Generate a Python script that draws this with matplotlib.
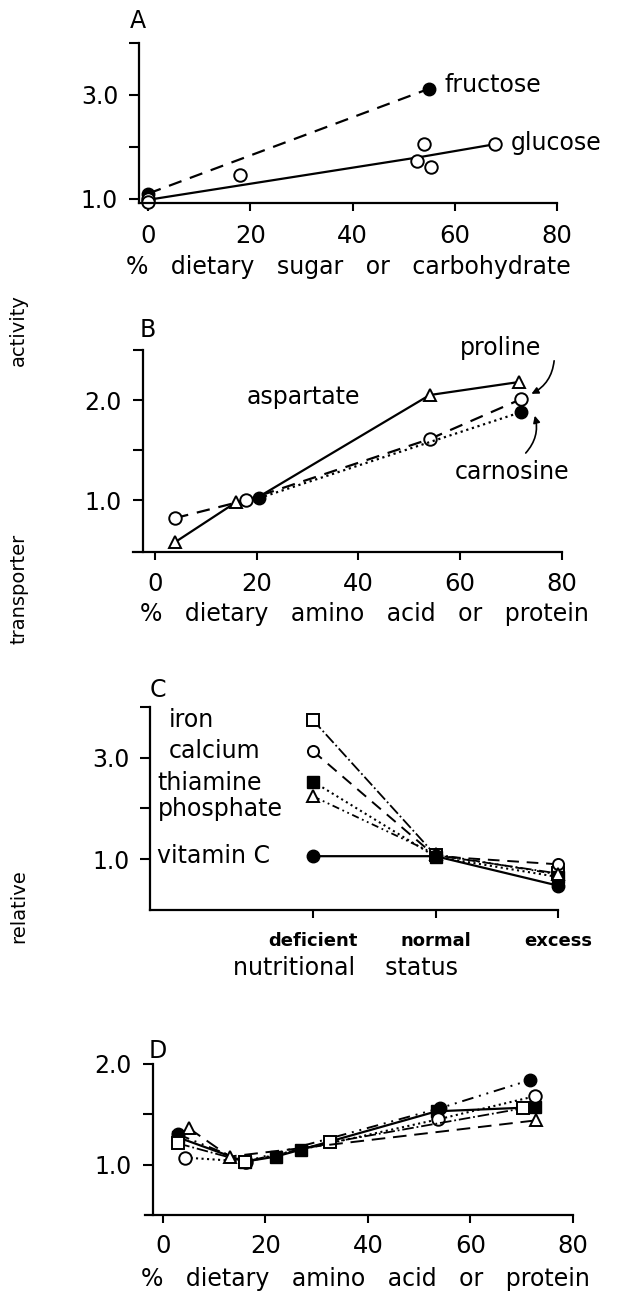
import matplotlib
matplotlib.use("Agg")
import matplotlib.pyplot as plt

plt.rcParams['font.family'] = ['DejaVu Sans']

# panel A: sugar / carbohydrate
fructose_x = [0, 55]
fructose_y = [1.10, 3.12]
glucose_pts_x = [0, 0, 18, 52.7, 54, 55.3, 67.8]
glucose_pts_y = [1.00, 0.94, 1.45, 1.72, 2.05, 1.62, 2.05]
glucose_fit_x = [0, 53, 67.8]
glucose_fit_y = [0.98, 1.80, 2.05]

# panel B: amino acids
aspartate_x = [4, 16, 20, 54, 71.5]
aspartate_y = [0.58, 0.98, 1.02, 2.05, 2.18]
proline_x = [4, 18, 54, 72]
proline_y = [0.82, 1.00, 1.61, 2.01]
carnosine_x = [20.5, 72]
carnosine_y = [1.02, 1.88]

# panel C: nutritional status
status = ["deficient", "normal", "excess"]
iron_y = [3.74, 1.08, 0.72]
calcium_y = [3.13, 1.06, 0.90]
thiamine_y = [2.53, 1.05, 0.65]
phosphate_y = [2.24, 1.10, 0.70]
vitaminc_y = [1.06, 1.06, 0.48]

# panel D: amino acid or protein
d1_x = [3, 16, 54, 71.6]
d1_y = [1.30, 1.03, 1.56, 1.84]
d2_x = [3, 16, 22, 27, 53.4, 72.5]
d2_y = [1.27, 1.03, 1.08, 1.15, 1.53, 1.57]
d3_x = [4.3, 16.3, 53.7, 72.6]
d3_y = [1.07, 1.03, 1.45, 1.68]
d4_x = [3, 16, 32.6, 70.3]
d4_y = [1.21, 1.03, 1.22, 1.56]
d5_x = [5.1, 13, 72.8]
d5_y = [1.36, 1.08, 1.44]

FS = 17
LFS = 17
XFS = 17.5
PFS = 17  # panel letters


def style_axes(ax, xlim, ylim, yticks, ylabels, xticks=None, xlabels=None,
               xpad=8, yspine=None):
    ax.spines["top"].set_visible(False)
    ax.spines["right"].set_visible(False)
    for s in ("left", "bottom"):
        ax.spines[s].set_linewidth(1.6)
    if yspine is not None:
        ax.spines["left"].set_position(("data", yspine))
    ax.set_xlim(*xlim)
    ax.set_ylim(*ylim)
    ax.set_yticks(yticks)
    ax.set_yticklabels(ylabels, fontsize=FS)
    if xticks is not None:
        ax.set_xticks(xticks)
        ax.set_xticklabels(xlabels, fontsize=XFS)
    ax.tick_params(axis="y", direction="out", length=7, width=1.5, pad=8)
    ax.tick_params(axis="x", direction="out", length=6, width=1.5, pad=xpad)
    ax.patch.set_alpha(0)


fig = plt.figure(figsize=(6.28, 12.95), dpi=100)

# ---------------- A
axA = fig.add_axes([0.2213, 0.8433, 0.6656, 0.1235])
style_axes(axA, (-1.8, 80), (0.92, 4.0), [1, 2, 3, 4], ["1.0", "", "3.0", ""],
           [0, 20, 40, 60, 80], ["0", "20", "40", "60", "80"], xpad=9)
axA.plot(fructose_x, fructose_y, "k--", lw=1.6, dashes=(6, 4), marker="o",
         ms=9, mfc="k", mec="k", clip_on=False)
axA.plot(glucose_fit_x, glucose_fit_y, "k-", lw=1.6, clip_on=False)
axA.plot(glucose_pts_x, glucose_pts_y, "o", ms=9, mfc="white", mec="k",
         mew=1.4, clip_on=False)
axA.text(58, 3.2, "fructose", fontsize=LFS, va="center")
axA.text(71, 2.08, "glucose", fontsize=LFS, va="center")
axA.text(-2, 4.2, "A", fontsize=PFS, ha="center", va="bottom")
axA.set_xlabel("%   dietary   sugar   or   carbohydrate", fontsize=LFS, labelpad=5)

# ---------------- B
axB = fig.add_axes([0.2118, 0.5737, 0.6831, 0.156])
style_axes(axB, (-4.3, 80), (0.48, 2.5), [1.0, 1.5, 2.0, 2.5], ["1.0", "", "2.0", ""],
           [0, 20, 40, 60, 80], ["0", "20", "40", "60", "80"], yspine=-2.4)
axB.plot(aspartate_x, aspartate_y, "k-", lw=1.6, marker="^", ms=9, mfc="white",
         mec="k", mew=1.4, markevery=[0, 1, 3, 4], clip_on=False)
axB.plot(proline_x, proline_y, "k--", lw=1.6, dashes=(6, 4), marker="o", ms=9,
         mfc="white", mec="k", mew=1.4, clip_on=False)
axB.plot(carnosine_x, carnosine_y, "k:", lw=1.6, marker="o", ms=9, mfc="k",
         mec="k", clip_on=False)
axB.text(18, 2.03, "aspartate", fontsize=LFS, va="center")
axB.text(60, 2.52, "proline", fontsize=LFS, va="center")
axB.text(59, 1.28, "carnosine", fontsize=LFS, va="center")
axB.annotate("", xy=(73.5, 2.05), xytext=(78.5, 2.42),
             arrowprops=dict(arrowstyle="-|>", color="k", lw=1.2,
                             connectionstyle="arc3,rad=-0.3"))
axB.annotate("", xy=(74.5, 1.87), xytext=(72.5, 1.45),
             arrowprops=dict(arrowstyle="-|>", color="k", lw=1.2,
                             connectionstyle="arc3,rad=0.3"))
axB.text(-1.5, 2.58, "B", fontsize=PFS, ha="center", va="bottom")
axB.set_xlabel("%   dietary   amino   acid   or   protein", fontsize=LFS,
               labelpad=5, x=0.54)

# ---------------- C
axC = fig.add_axes([0.2389, 0.2973, 0.6497, 0.1568])
style_axes(axC, (-1.33, 2), (0, 4), [1, 2, 3, 4], ["1.0", "", "3.0", ""],
           [0, 1, 2], status, xpad=10)
axC.set_xticklabels(status, fontsize=13, fontweight="bold")
pos = range(len(status))
axC.plot(pos, iron_y, "k-.", lw=1.3, marker="s", ms=8, mfc="white", mec="k",
         mew=1.4, clip_on=False)
axC.plot(pos, calcium_y, "k--", lw=1.4, dashes=(6, 4), marker="o", ms=8,
         mfc="white", mec="k", mew=1.4, clip_on=False)
axC.plot(pos, thiamine_y, "k:", lw=1.5, marker="s", ms=8, mfc="k", mec="k",
         clip_on=False)
axC.plot(pos, phosphate_y, "k", lw=1.3, dashes=(4, 2, 1, 2, 1, 2), marker="^",
         ms=8, mfc="white", mec="k", mew=1.4, clip_on=False)
axC.plot(pos, vitaminc_y, "k-", lw=1.6, marker="o", ms=9, mfc="k", mec="k",
         clip_on=False)
for name, yy in [("iron", 3.74), ("calcium", 3.13), ("thiamine", 2.5),
                 ("phosphate", 1.98), ("vitamin C", 1.06)]:
    xx = -1.18 if name in ("iron", "calcium") else -1.27
    axC.text(xx, yy, name, fontsize=LFS, va="center")
axC.text(-1.27, 4.1, "C", fontsize=PFS, ha="center", va="bottom")
axC.set_xlabel("nutritional    status", fontsize=LFS, labelpad=4, x=0.48)

# ---------------- D
axD = fig.add_axes([0.2309, 0.0618, 0.6815, 0.1166])
style_axes(axD, (-3.5, 80), (0.5, 2.0), [1.0, 1.5, 2.0], ["1.0", "", "2.0"],
           [0, 20, 40, 60, 80], ["0", "20", "40", "60", "80"], yspine=-2)
axD.plot(d1_x, d1_y, "k", lw=1.4, dashes=(6, 3, 1, 3, 1, 3), marker="o", ms=9,
         mfc="k", mec="k", clip_on=False)
axD.plot(d2_x, d2_y, "k-", lw=1.6, marker="s", ms=8, mfc="k", mec="k",
         clip_on=False)
axD.plot(d3_x, d3_y, "k:", lw=1.5, marker="o", ms=9, mfc="white", mec="k",
         mew=1.4, clip_on=False)
axD.plot(d4_x, d4_y, "k-.", lw=1.3, marker="s", ms=8, mfc="white", mec="k",
         mew=1.4, clip_on=False)
axD.plot(d5_x, d5_y, "k--", lw=1.4, dashes=(7, 4), marker="^", ms=8,
         mfc="white", mec="k", mew=1.4, clip_on=False)
axD.text(-1, 2.01, "D", fontsize=PFS, ha="center", va="bottom")
axD.set_xlabel("%   dietary   amino   acid   or   protein", fontsize=LFS,
               labelpad=6, x=0.516)

# shared y label, split like the original
for yy, word in [(0.745, "activity"), (0.545, "transporter"), (0.30, "relative")]:
    fig.text(0.03, yy, word, rotation=90, fontsize=14, ha="center", va="center")

fig.savefig("out.png", dpi=100)
